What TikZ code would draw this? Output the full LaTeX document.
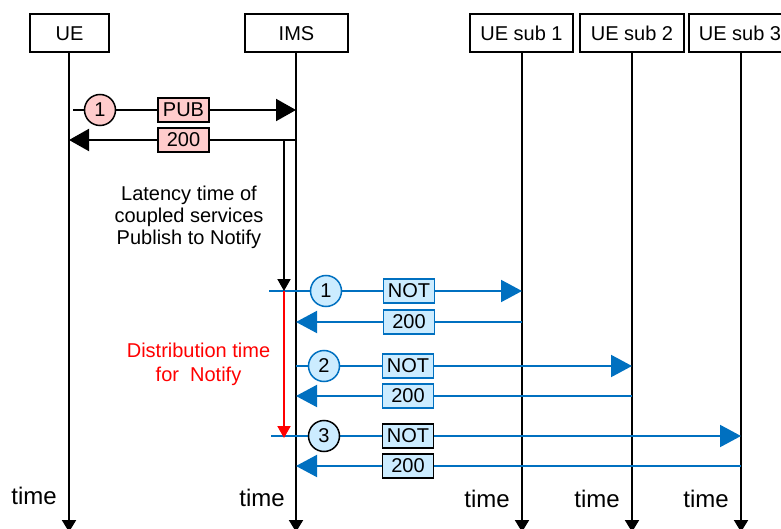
\documentclass[tikz,border=0pt]{standalone}
\usepackage{fontspec}
\setmainfont{Liberation Sans}
\usetikzlibrary{arrows.meta}
\definecolor{msgblue}{RGB}{0,112,192}
\definecolor{pinkfill}{RGB}{255,204,204}
\definecolor{bluefill}{RGB}{204,236,255}
\tikzset{
  entity/.style={draw, line width=2pt, minimum height=38pt, inner sep=0pt, fill=white},
  lifeline/.style={line width=2pt, -{Triangle[length=12pt,width=14pt]}},
  blackmsg/.style={line width=2pt, -{Triangle[length=20pt,width=22pt]}},
  bluemsg/.style={line width=2pt, draw=msgblue, -{Triangle[length=21pt,width=22pt,fill=msgblue]}},
  lbl/.style={draw, line width=1.5pt, minimum width=51pt, minimum height=24pt, inner sep=0pt},
  pinklbl/.style={lbl, fill=pinkfill},
  bluelbl/.style={lbl, fill=bluefill, draw=msgblue},
  blacklbl/.style={lbl, fill=bluefill},
  stepnum/.style={circle, draw, line width=1.5pt, minimum size=31pt, inner sep=0pt},
  timelbl/.style={font=\fontsize{24}{28}\selectfont},
  interval/.style={line width=2pt, -{Triangle[length=12pt,width=13pt]}}
}
\begin{document}
\begin{tikzpicture}[x=1pt, y=-1pt, font=\fontsize{20}{24.5}\selectfont]
\useasboundingbox (0,0) rectangle (781,529);

% participants
\node[entity, minimum width=79pt]  (ue)   at (69.5,33.5)  {UE};
\node[entity, minimum width=103pt] (ims)  at (296.5,33.5) {IMS};
\node[entity, minimum width=103pt] (sub1) at (521.5,33.5) {UE sub 1};
\node[entity, minimum width=104pt] (sub2) at (632,33)     {UE sub 2};
\node[entity, minimum width=103pt] (sub3) at (740,33.5)   {UE sub 3};

% lifeline ends
\coordinate (ue-end)   at (69,532);
\coordinate (ims-end)  at (296,532);
\coordinate (sub1-end) at (522,532);
\coordinate (sub2-end) at (632,532);
\coordinate (sub3-end) at (741,532);

\draw[lifeline] (ue.south -| ue-end)     -- (ue-end);
\draw[lifeline] (ims.south -| ims-end)   -- (ims-end);
\draw[lifeline] (sub1.south -| sub1-end) -- (sub1-end);
\draw[lifeline] (sub2.south -| sub2-end) -- (sub2-end);
\draw[lifeline] (sub3.south -| sub3-end) -- (sub3-end);

% points on the lifelines
\coordinate (pub-start) at (73,110);
\coordinate (ims-pub)   at (296,110);
\coordinate (ims-ok)    at (296,140);
\coordinate (ue-ok)     at (69,140);

\coordinate (not1-start) at (269,291);
\coordinate (sub1-not)   at (522,291);
\coordinate (sub1-ok)    at (522,322);
\coordinate (ims-ok1)    at (296,322);

\coordinate (not2-start) at (296,366);
\coordinate (sub2-not)   at (632,366);
\coordinate (sub2-ok)    at (632,396);
\coordinate (ims-ok2)    at (296,396);

\coordinate (not3-start) at (271,436);
\coordinate (sub3-not)   at (741,436);
\coordinate (sub3-ok)    at (741,466);
\coordinate (ims-ok3)    at (296,466);

% publish exchange
\draw[blackmsg] (pub-start) -- (ims-pub);
\draw[blackmsg] (ims-ok) -- (ue-ok);

% notify exchanges
\draw[bluemsg] (not1-start) -- (sub1-not);
\draw[bluemsg] (sub1-ok) -- (ims-ok1);
\draw[bluemsg] (not2-start) -- (sub2-not);
\draw[bluemsg] (sub2-ok) -- (ims-ok2);
\draw[bluemsg] (not3-start) -- (sub3-not);
\draw[bluemsg] (sub3-ok) -- (ims-ok3);

% timing intervals
\coordinate (lat-top) at (284,140);
\coordinate (lat-bot) at (284,291);
\coordinate (dist-bot) at (284,438);
\draw[interval] (lat-top) -- (lat-bot);
\draw[interval, red] (lat-bot) -- (dist-bot);

% message labels
\node[stepnum, fill=pinkfill] (c0) at (100,110) {1};
\node[pinklbl] (pub)  at (183.5,110) {PUB};
\node[pinklbl] (ok0)  at (183.5,140) {200};

\node[stepnum, fill=bluefill, draw=msgblue] (c1) at (326,291) {1};
\node[bluelbl] (not1) at (409,291) {NOT};
\node[bluelbl] (ok1)  at (409,322) {200};

\node[stepnum, fill=bluefill, draw=msgblue] (c2) at (324,366) {2};
\node[bluelbl] (not2) at (408,366) {NOT};
\node[bluelbl] (ok2)  at (408,396) {200};

\node[stepnum, fill=bluefill] (c3) at (324,436) {3};
\node[blacklbl] (not3) at (408,436) {NOT};
\node[blacklbl] (ok3)  at (408,466) {200};

% interval descriptions
\node[align=center, font=\fontsize{20}{22}\selectfont] (lat-txt) at (189,217) {Latency time of\\coupled services\\Publish to Notify};
\node[align=center, text=red] (dist-txt) at (198.5,364.5) {Distribution time\\for\ \ Notify};

% time axes
\node[timelbl] (t-ue)   at (34,496)  {time};
\node[timelbl] (t-ims)  at (262,498) {time};
\node[timelbl] (t-sub1) at (487,499) {time};
\node[timelbl] (t-sub2) at (597,499) {time};
\node[timelbl] (t-sub3) at (706,499) {time};
\end{tikzpicture}
\end{document}
